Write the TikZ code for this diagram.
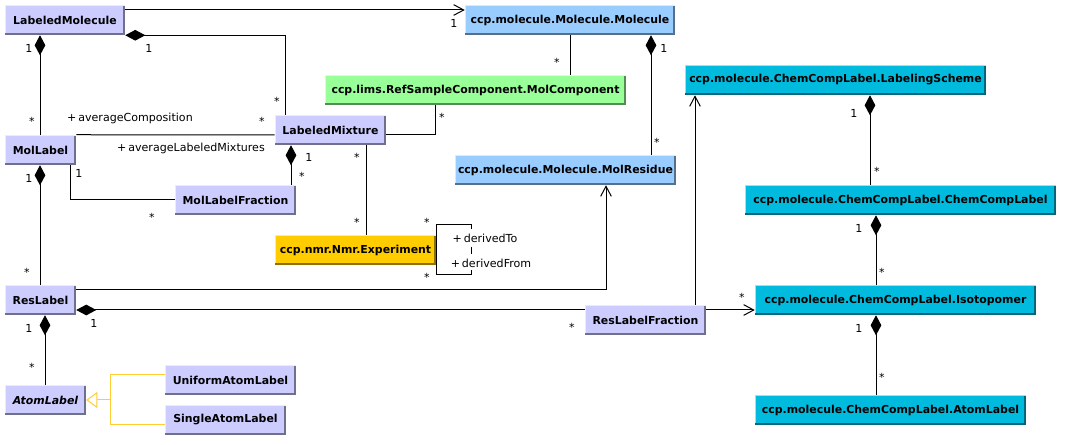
\documentclass[tikz,border=0pt]{standalone}
\usepackage{fontspec}
\setmainfont{DejaVu Sans}
\usetikzlibrary{arrows.meta}
\definecolor{lav}{HTML}{CCCCFF}
\definecolor{molblue}{HTML}{99CCFF}
\definecolor{limsgreen}{HTML}{99FF99}
\definecolor{nmryellow}{HTML}{FFCC00}
\definecolor{cccyan}{HTML}{00BBDD}
\definecolor{genyellow}{HTML}{FFCC33}
\tikzset{
  cls/.style n args={3}{rectangle, inner sep=0pt, fill=#1,
    minimum width=#2*0.75pt, minimum height=#3*0.75pt,
    font=\fontsize{8.2}{10}\selectfont\bfseries,
    path picture={
      \fill[#1!55!black] (path picture bounding box.south west) rectangle ([yshift=1.5pt]path picture bounding box.south east);
      \fill[#1!55!black] (path picture bounding box.north east) rectangle ([xshift=-1.5pt]path picture bounding box.south east);
      \fill[#1!40!white] (path picture bounding box.north west) rectangle ([yshift=-0.75pt]path picture bounding box.north east);
      \fill[#1!40!white] (path picture bounding box.north west) rectangle ([xshift=0.75pt,yshift=1.5pt]path picture bounding box.south west);
    }},
  conn/.style={draw=black, line width=0.75pt},
  nav/.style={conn, -{Straight Barb[length=7.5pt,width=8pt,line width=0.75pt]}},
  comp/.style={conn, {Diamond[length=15pt,width=8pt]}-},
  gline/.style={draw=genyellow, line width=0.75pt},
  genarrow/.style={gline, -{Triangle[open,length=8.25pt,width=12pt,line width=0.75pt,fill=white]}},
  mult/.style={font=\fontsize{8.3}{10}\selectfont, inner sep=0pt},
  role/.style={font=\fontsize{8.3}{10}\selectfont, inner sep=0pt},
}
\begin{document}
\begin{tikzpicture}[x=0.75pt,y=-0.75pt]
\useasboundingbox[fill=white] (0,0) rectangle (1065,445);
% classes
\node[cls={lav}{120}{30}] (LM) at (65,20) {LabeledMolecule};
\node[cls={molblue}{210}{30}] (MOL) at (570,20) {ccp.molecule.Molecule.Molecule};
\node[cls={limsgreen}{301}{30}] (MC) at (475.5,90) {ccp.lims.RefSampleComponent.MolComponent};
\node[cls={lav}{111}{30}] (LMX) at (330.5,130) {LabeledMixture};
\node[cls={molblue}{221}{30}] (MR) at (565.5,170) {ccp.molecule.Molecule.MolResidue};
\node[cls={lav}{71}{30}] (ML) at (40.5,150) {MolLabel};
\node[cls={lav}{121}{30}] (MLF) at (235.5,200) {MolLabelFraction};
\node[cls={nmryellow}{161}{30}] (EXP) at (355.5,250) {ccp.nmr.Nmr.Experiment};
\node[cls={lav}{71}{30}] (RL) at (40.5,300) {ResLabel};
\node[cls={lav}{121}{30}] (RLF) at (645.5,320) {ResLabelFraction};
\node[cls={lav}{81}{30}] (AL) at (45.5,400) {\itshape AtomLabel};
\node[cls={lav}{131}{30}] (UAL) at (230.5,380) {UniformAtomLabel};
\node[cls={lav}{121}{30}] (SAL) at (225.5,420) {SingleAtomLabel};
\node[cls={cccyan}{301}{30}] (LS) at (835.5,80) {ccp.molecule.ChemCompLabel.LabelingScheme};
\node[cls={cccyan}{311}{30}] (CCL) at (900.5,200) {ccp.molecule.ChemCompLabel.ChemCompLabel};
\node[cls={cccyan}{281}{30}] (ISO) at (895.5,300) {ccp.molecule.ChemCompLabel.Isotopomer};
\node[cls={cccyan}{271}{30}] (CAL) at (890.5,410) {ccp.molecule.ChemCompLabel.AtomLabel};
% connectors
\draw[nav] (LM.east |- 0,10) -- (MOL.west |- 0,10);
\draw[comp] (LM.south -| 40,0) -- (ML.north -| 40,0);
\draw[comp] (LM.south east) -| (LMX.north -| 285,0);
\draw[conn] (ML.north east) -- (LMX.west |- 0,135);
\draw[conn] (LMX.east |- 0,135) -| (MC.south -| 435,0);
\draw[conn] (MC.north -| 570,0) -- (MOL.south -| 570,0);
\draw[comp] (MOL.south -| 651,0) -- (MR.north -| 651,0);
\draw[comp] (LMX.south -| 291,0) -- (MLF.north -| 291,0);
\draw[conn] (ML.south -| 70,0) |- (MLF.west |- 0,200);
\draw[comp] (ML.south -| 40,0) -- (RL.north -| 40,0);
\draw[conn] (LMX.south -| 366,0) -- (EXP.north -| 366,0);
\draw[conn] (471,229) -- (471,225) -- (EXP.east |- 0,225) -- (EXP.east |- 0,275) -- (471,275) -- (471,270);
\draw[conn] (471,247) -- (471,254);
\draw[nav] (RL.east |- 0,290) -| (MR.south -| 606,0);
\draw[comp] (RL.east |- 0,310) -- (RLF.west |- 0,310);
\draw[nav] (RLF.east |- 0,310) -- (ISO.west |- 0,310);
\draw[nav] (RLF.north -| 695,0) -- (LS.south -| 695,0);
\draw[comp] (LS.south -| 870,0) -- (CCL.north -| 870,0);
\draw[comp] (CCL.south -| 876,0) -- (ISO.north -| 876,0);
\draw[comp] (ISO.south -| 876,0) -- (CAL.north -| 876,0);
\draw[comp] (RL.south -| 45,0) -- (AL.north -| 45,0);
\draw[gline] (UAL.west |- 0,375) -- (110,375) -- (110,425) -- (SAL.west |- 0,425);
\draw[genarrow] (110,400) -- (AL.east);
% multiplicities
\node[mult] (m1) at (454,23) {1};
\node[mult] (m2) at (29,48) {1};
\node[mult] (m3) at (32,121) {*};
\node[mult] (m4) at (149,48) {1};
\node[mult] (m5) at (277,101) {*};
\node[mult] (m6) at (262,121) {*};
\node[mult] (m7) at (442,117) {*};
\node[mult] (m8) at (557,62) {*};
\node[mult] (m9) at (664,48) {1};
\node[mult] (m10) at (657,142) {*};
\node[mult] (m11) at (309,157) {1};
\node[mult] (m12) at (302,176) {*};
\node[mult] (m13) at (357,157) {*};
\node[mult] (m14) at (357,222) {*};
\node[mult] (m15) at (79,173) {1};
\node[mult] (m16) at (152,217) {*};
\node[mult] (m17) at (29,178) {1};
\node[mult] (m18) at (27,272) {*};
\node[mult] (m19) at (427,222) {*};
\node[mult] (m20) at (427,277) {*};
\node[mult] (m21) at (94,323) {1};
\node[mult] (m22) at (572,327) {*};
\node[mult] (m23) at (29,328) {1};
\node[mult] (m24) at (32,367) {*};
\node[mult] (m25) at (742,297) {*};
\node[mult] (m26) at (854,113) {1};
\node[mult] (m27) at (877,171) {*};
\node[mult] (m28) at (859,228) {1};
\node[mult] (m29) at (882,272) {*};
\node[mult] (m30) at (859,328) {1};
\node[mult] (m31) at (882,377) {*};
% role names
\node[role] (r1) at (130,118) {+\,averageComposition};
\node[role] (r2) at (191,148) {+\,averageLabeledMixtures};
\node[role] (r3) at (485,238) {+\,derivedTo};
\node[role] (r4) at (491,263) {+\,derivedFrom};
\end{tikzpicture}
\end{document}
